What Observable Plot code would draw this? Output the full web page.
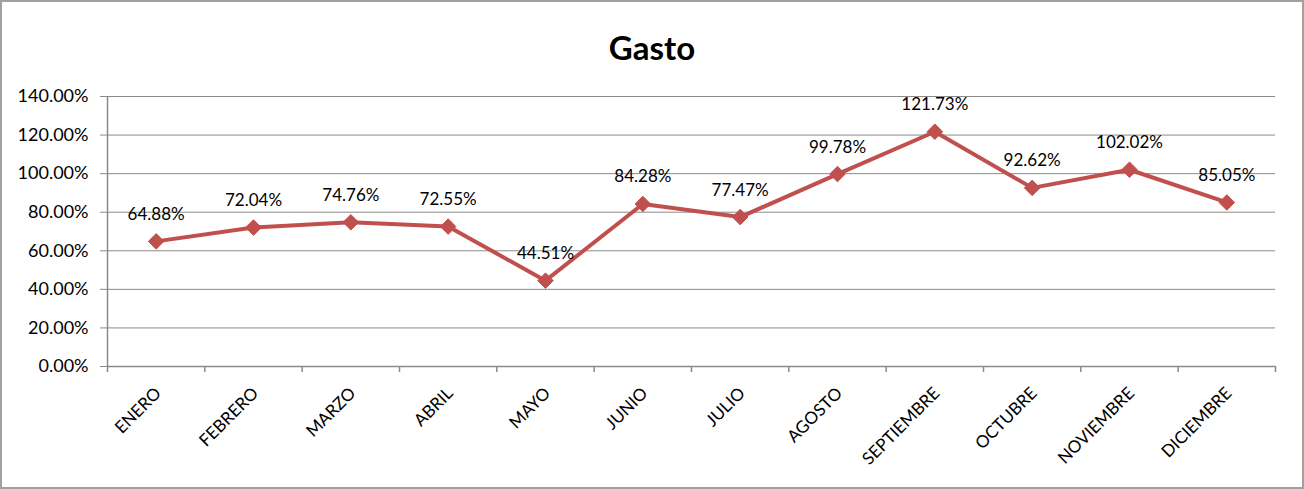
<!DOCTYPE html>
<html>
<head>
<meta charset="utf-8">
<script src="https://cdn.jsdelivr.net/npm/d3@7"></script>
<script src="https://cdn.jsdelivr.net/npm/@observablehq/plot@0.6"></script>
<style>
  html, body { margin: 0; padding: 0; background: #fff; }
  #frame { width: 1304px; height: 489px; box-sizing: border-box; border: 2px solid #a0a0a0; font-family: Lato, "Open Sans", sans-serif; overflow: hidden; }
  #title { height: 78px; box-sizing: border-box; padding-top: 29px; text-align: center; font-weight: bold; font-size: 33px; line-height: 33px; color: #000; }
  svg { display: block; }
</style>
</head>
<body>
<div id="frame">
  <div id="title">Gasto</div>
  <div id="chart"></div>
</div>
<script>
const months = ["ENERO","FEBRERO","MARZO","ABRIL","MAYO","JUNIO","JULIO","AGOSTO","SEPTIEMBRE","OCTUBRE","NOVIEMBRE","DICIEMBRE"];
const gasto = [64.88, 72.04, 74.76, 72.55, 44.51, 84.28, 77.47, 99.78, 121.73, 92.62, 102.02, 85.05];
const yTicks = [0, 20, 40, 60, 80, 100, 120, 140];

const data = months.map((m, i) => ({month: m, idx: i + 0.5, value: gasto[i]}));
const boundaries = d3.range(months.length + 1);

const lineColor = "#C0504D";
const gridColor = "#8a8a8a";

const chart = Plot.plot({
  width: 1300,
  height: 407,
  marginTop: 16,
  marginBottom: 121,
  marginLeft: 105,
  marginRight: 27,
  style: {fontFamily: "Lato, 'Open Sans', sans-serif", color: "#000", background: "#fff"},
  x: {type: "linear", domain: [0, months.length], axis: null},
  y: {type: "linear", domain: [0, 140], axis: null},
  marks: [
    Plot.gridY(yTicks, {stroke: gridColor, strokeOpacity: 1, strokeWidth: 1}),
    Plot.axisY(yTicks, {label: null, tickSize: 7, tickPadding: 12, stroke: gridColor, tickFormat: d => d.toFixed(2) + "%", fontSize: 18, fill: "#000"}),
    Plot.ruleX([0], {y1: 0, y2: 140, stroke: gridColor, strokeWidth: 1.5}),
    Plot.ruleY([0], {stroke: gridColor, strokeWidth: 1.5}),
    Plot.axisX(boundaries, {label: null, tickSize: 6, stroke: gridColor, tickFormat: () => "", strokeWidth: 1.5}),
    Plot.text(data, {x: "idx", frameAnchor: "bottom", text: "month", rotate: -45, textAnchor: "end", lineAnchor: "middle", dy: 24, dx: 2, fontSize: 17, fill: "#000"}),
    Plot.line(data, {x: "idx", y: "value", stroke: lineColor, strokeWidth: 4, strokeLinejoin: "miter"}),
    Plot.dot(data, {x: "idx", y: "value", symbol: "diamond2", r: 7, fill: lineColor, stroke: lineColor, strokeWidth: 1}),
    Plot.text(data, {x: "idx", y: "value", text: d => d.value.toFixed(2) + "%", dy: -27, lineAnchor: "middle", fontSize: 17, fill: "#000"})
  ]
});
document.getElementById("chart").appendChild(chart);
</script>
</body>
</html>
